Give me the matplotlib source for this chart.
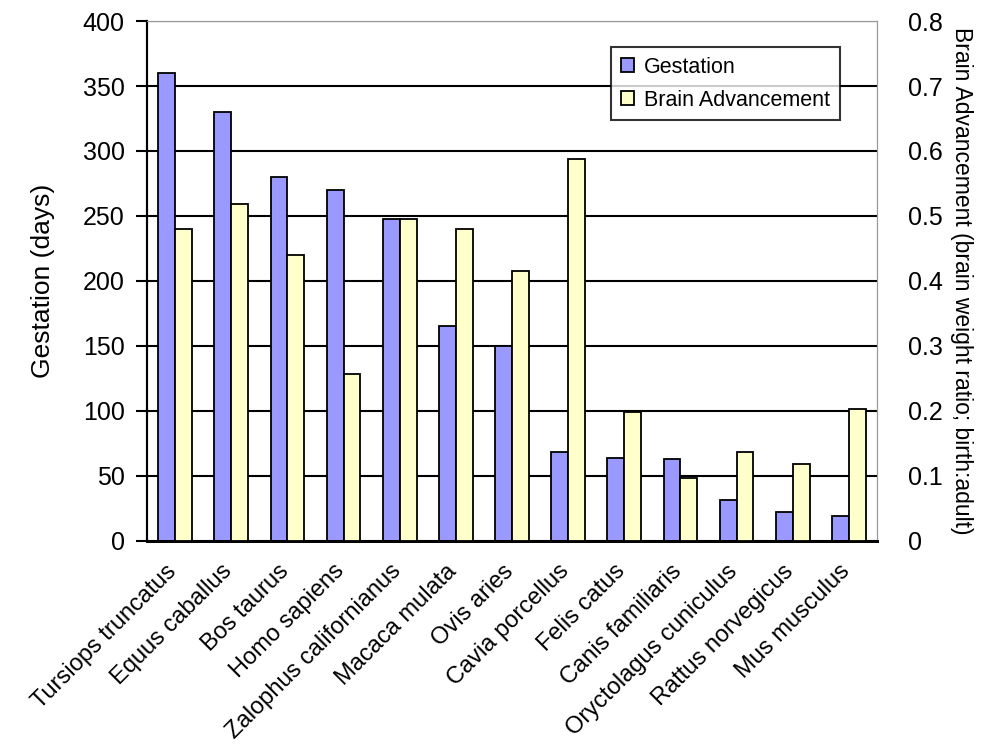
import numpy as np
import matplotlib.pyplot as plt
from matplotlib.transforms import ScaledTranslation

species = ["Tursiops truncatus", "Equus caballus", "Bos taurus", "Homo sapiens",
           "Zalophus californianus", "Macaca mulata", "Ovis aries", "Cavia porcellus",
           "Felis catus", "Canis familiaris", "Oryctolagus cuniculus",
           "Rattus norvegicus", "Mus musculus"]
gestation = [360, 330, 280, 270, 248, 165, 150, 68, 64, 63, 31, 22, 19]
brain_adv = [0.48, 0.518, 0.44, 0.257, 0.495, 0.48, 0.415, 0.588, 0.198, 0.097, 0.137, 0.118, 0.203]

plt.rcParams['font.family'] = ['Liberation Sans', 'DejaVu Sans']

fig = plt.figure(figsize=(10, 7.52), dpi=100)
ax = fig.add_axes([0.147, 0.281, 0.73, 0.691])
ax2 = ax.twinx()

x = np.arange(len(species))
w = 0.3
b1 = ax.bar(x - w / 2, gestation, w, color='#9999FF', edgecolor='black', linewidth=1.3,
            label='Gestation', zorder=3)
b2 = ax2.bar(x + w / 2, brain_adv, w, color='#FFFFCC', edgecolor='black', linewidth=1.3,
             label='Brain Advancement', zorder=3)

ax.set_xlim(-0.5, len(species) - 0.5)
ax.set_ylim(0, 400)
ax.set_yticks(np.arange(0, 401, 50))
ax2.set_ylim(0, 0.8)
ax2.set_yticks(np.arange(0, 0.81, 0.1))
ax2.set_yticklabels(['0'] + ['%.1f' % v for v in np.arange(0.1, 0.81, 0.1)])

ax.yaxis.grid(True, color='black', linewidth=1.5, zorder=0)
ax.set_axisbelow(True)

ax.set_xticks(x)
ax.set_xticklabels(species, rotation=45, ha='right', rotation_mode='anchor', fontsize=17)
ax.tick_params(axis='x', length=0, pad=14)
shift = ScaledTranslation(-10 / 100, 0, fig.dpi_scale_trans)
for lab in ax.get_xticklabels():
    lab.set_transform(lab.get_transform() + shift)
ax.tick_params(axis='y', labelsize=18, length=8, width=1.5, pad=8, direction='out')
ax2.tick_params(axis='y', labelsize=18, length=0, pad=22)

ax.set_ylabel('Gestation (days)', fontsize=19, labelpad=20)
ax2.set_ylabel('Brain Advancement (brain weight ratio; birth:adult)', fontsize=16.5,
               rotation=270, labelpad=22)

for a in (ax, ax2):
    a.spines['top'].set_color('#999999')
    a.spines['right'].set_color('#999999')
    a.spines['left'].set_color('black')
    a.spines['bottom'].set_color('black')
    a.spines['left'].set_linewidth(1.5)
    a.spines['bottom'].set_linewidth(2)

leg = ax2.legend([b1, b2], ['Gestation', 'Brain Advancement'], loc='upper right',
                 bbox_to_anchor=(0.840, 0.9375), bbox_transform=fig.transFigure,
                 borderaxespad=0, fontsize=15.5, frameon=True, fancybox=False,
                 edgecolor='black', handlelength=0.6, handleheight=0.6,
                 handletextpad=0.5, borderpad=0.45, labelspacing=0.55)
leg.get_frame().set_linewidth(1.5)

fig.savefig('out.png', dpi=100)
